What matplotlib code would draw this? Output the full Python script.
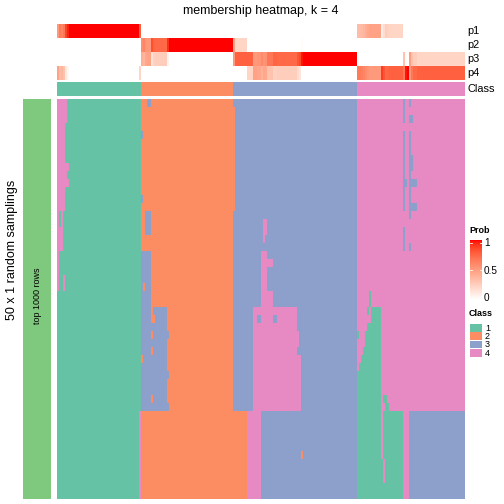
import numpy as np
import matplotlib
matplotlib.use("Agg")
import matplotlib.pyplot as plt
from matplotlib.colors import ListedColormap, LinearSegmentedColormap

plt.rcParams['font.family'] = ['Liberation Sans', 'DejaVu Sans']

W, H = 504, 504

n_samplings = 50
class_labels = [1, 2, 3, 4]
class_sizes = [42, 46, 62, 54]   # samples in each consensus class
class_colors = ['#66C2A5', '#FC8D62', '#8DA0CB', '#E78AC3']
bar_color = '#7FC97F'

# samplings whose class call differs from the consensus class:
# (first sampling, last sampling + 1, first sample, last sample + 1, class)
changes = [
    (0, 14, 0, 4, 4), (0, 3, 4, 5, 4), (8, 9, 4, 6, 4), (9, 11, 4, 5, 4),
    (10, 11, 5, 6, 4), (14, 24, 0, 1, 4), (14, 19, 2, 3, 4), (16, 19, 1, 2, 4),
    (22, 24, 3, 4, 4),
    (0, 1, 45, 47, 3), (4, 5, 42, 43, 3), (12, 13, 42, 43, 3), (14, 17, 44, 47, 3),
    (19, 26, 42, 47, 3), (26, 39, 42, 55, 3),
    (26, 27, 47, 48, 2), (27, 28, 47, 49, 2), (29, 30, 47, 48, 2), (31, 32, 47, 48, 2),
    (37, 38, 47, 48, 2), (32, 33, 42, 43, 2), (23, 24, 43, 44, 2),
    (29, 30, 55, 56, 3), (34, 35, 55, 56, 3), (38, 39, 55, 56, 3),
    (1, 14, 88, 89, 2),
    (39, 50, 41, 42, 4), (39, 50, 88, 95, 2), (39, 50, 95, 102, 4), (44, 45, 122, 123, 2),
    (15, 16, 103, 105, 4), (16, 17, 104, 105, 4), (16, 18, 103, 104, 4),
    (19, 24, 102, 105, 4), (20, 21, 105, 108, 4), (24, 26, 102, 108, 4),
    (26, 39, 98, 120, 4), (32, 39, 120, 122, 4), (29, 31, 120, 121, 4),
    (27, 28, 100, 102, 3), (27, 28, 108, 110, 3),
    (0, 3, 173, 174, 3), (4, 14, 173, 174, 3), (10, 11, 174, 175, 3), (16, 19, 173, 174, 3),
    (0, 1, 176, 177, 3), (2, 3, 176, 178, 3), (4, 15, 176, 177, 3), (7, 9, 177, 178, 3),
    (10, 11, 176, 180, 3), (13, 14, 177, 180, 3), (18, 19, 176, 177, 3),
    (24, 26, 156, 157, 1), (26, 28, 157, 162, 1), (26, 27, 155, 156, 1),
    (28, 29, 155, 162, 1), (29, 31, 154, 162, 1), (29, 30, 150, 151, 1),
    (31, 32, 153, 162, 1), (32, 36, 152, 162, 1), (33, 34, 151, 152, 1),
    (34, 36, 150, 152, 1), (36, 39, 150, 162, 1), (37, 38, 163, 165, 1),
    (38, 39, 164, 166, 1),
    (39, 50, 150, 173, 1), (39, 45, 162, 163, 4), (45, 48, 163, 164, 4),
    (39, 50, 176, 204, 3),
]

consensus = np.repeat(class_labels, class_sizes)
calls = np.tile(consensus, (n_samplings, 1))
for r0, r1, c0, c1, k in changes:
    calls[r0:r1, c0:c1] = k

# membership: fraction of samplings assigning each sample to class k
membership = np.array([(calls == k).mean(axis=0) for k in class_labels])


def lab2rgb(L, a, b):
    fy = (L + 16) / 116
    fx = fy + a / 500
    fz = fy - b / 200
    def finv(t):
        return np.where(t > 6 / 29, t ** 3, 3 * (6 / 29) ** 2 * (t - 4 / 29))
    X = 0.95047 * finv(fx); Y = finv(fy); Z = 1.08883 * finv(fz)
    r = 3.2406 * X - 1.5372 * Y - 0.4986 * Z
    g = -0.9689 * X + 1.8758 * Y + 0.0415 * Z
    bb = 0.0557 * X - 0.2040 * Y + 1.0570 * Z
    rgb = np.array([r, g, bb])
    rgb = np.where(rgb > 0.0031308, 1.055 * np.abs(rgb) ** (1 / 2.4) - 0.055, 12.92 * rgb)
    return np.clip(rgb, 0, 1).T

tt = np.linspace(0, 1, 64)
prob_cols = lab2rgb(100 + tt * (53.24 - 100), tt * 80.09, tt * 67.20)
prob_cols[0] = [1, 1, 1]
prob_cols[-1] = [1, 0, 0]
prob_cmap = LinearSegmentedColormap.from_list('prob', prob_cols)
class_cmap = ListedColormap(class_colors)

fig = plt.figure(figsize=(W / 72, H / 72), dpi=72)


def px_axes(x0, y0, x1, y1):
    ax = fig.add_axes([x0 / W, 1 - y1 / H, (x1 - x0) / W, (y1 - y0) / H])
    ax.set_axis_off()
    return ax


def px_text(x, y, s, **kw):
    fig.text(x / W, 1 - y / H, s, **kw)


hx0, hx1 = 57, 465

fig.text(0.5 * (hx0 + hx1) / W, 1 - 11 / H, 'membership heatmap, k = 4',
         ha='center', va='center', fontsize=12.5)

# membership rows
ax_p = px_axes(hx0, 24, hx1, 80)
ax_p.imshow(membership, cmap=prob_cmap, vmin=0, vmax=1, aspect='auto',
            interpolation='nearest')
for i in range(4):
    px_text(467, 31 + 14 * i, 'p%d' % (i + 1), ha='left', va='center', fontsize=11)

# consensus class row
ax_c = px_axes(hx0, 82, hx1, 96)
ax_c.imshow(consensus[None, :], cmap=class_cmap, vmin=0.5, vmax=4.5, aspect='auto',
            interpolation='nearest')
px_text(467, 89, 'Class', ha='left', va='center', fontsize=11)

# main heatmap
ax_m = px_axes(hx0, 99, hx1, 499)
ax_m.imshow(calls, cmap=class_cmap, vmin=0.5, vmax=4.5, aspect='auto',
            interpolation='nearest')

# left bar
ax_b = px_axes(23, 99, 51, 499)
ax_b.imshow(np.zeros((1, 1)), cmap=ListedColormap([bar_color]), aspect='auto')
px_text(37, 296, 'top 1000 rows', rotation=90, ha='center', va='center', fontsize=9)
px_text(12, 250, '50 x 1 random samplings', rotation=90, ha='center', va='center',
        fontsize=12.5)

# Prob legend
px_text(469, 231, 'Prob', ha='left', va='center', fontsize=9, fontweight='bold')
ax_l = px_axes(470, 240, 482, 300)
ax_l.imshow(np.linspace(1, 0, 100)[:, None], cmap=prob_cmap, vmin=0, vmax=1,
            aspect='auto', extent=[0, 1, -0.05, 1.05])
ax_l.set_xlim(0, 1)
ax_l.set_ylim(-0.05, 1.05)
for v in [0.5, 1.0]:
    ax_l.plot([0, 0.2], [v, v], color='white', lw=0.8)
    ax_l.plot([0.8, 1], [v, v], color='white', lw=0.8)
for v, lab in zip([1.0, 0.5, 0.0], ['1', '0.5', '0']):
    px_text(484, 298 - 55 * v, lab, ha='left', va='center', fontsize=10)

# Class legend
px_text(469, 314, 'Class', ha='left', va='center', fontsize=9, fontweight='bold')
for i, k in enumerate(class_labels):
    ax_k = px_axes(470, 324 + 8.3 * i, 482, 324 + 8.3 * (i + 1) - 0.6)
    ax_k.imshow(np.zeros((1, 1)), cmap=ListedColormap([class_colors[i]]), aspect='auto')
    px_text(485, 328.2 + 8.3 * i, str(k), ha='left', va='center', fontsize=9)

fig.savefig('out.png', dpi=72)
